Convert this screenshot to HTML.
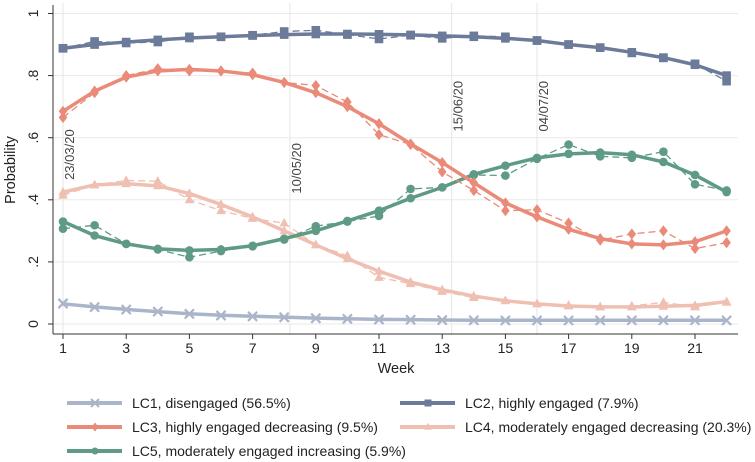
<!DOCTYPE html>
<html><head><meta charset="utf-8"><style>
html,body{margin:0;padding:0;background:#fff;}
svg{display:block;font-family:"Liberation Sans",sans-serif;}
</style></head><body>
<svg id="chart" width="755" height="462" viewBox="0 0 755 462" xmlns="http://www.w3.org/2000/svg">
<rect width="755" height="462" fill="#fff"/>
<g id="grid"></g>
<g id="vlines"></g>
<g id="series"></g>
<g id="axes"></g>
<g id="legend"></g>
</svg>
<script>
const weeks = [1,2,3,4,5,6,7,8,9,10,11,12,13,14,15,16,17,18,19,20,21,22];
const xTicks = [1,3,5,7,9,11,13,15,17,19,21];
const yTicks = [0,0.2,0.4,0.6,0.8,1];
const yTickLabels = ["0",".2",".4",".6",".8","1"];
const eventWeeks = [1,8.18,13.3,16.0];
const eventLabels = ["23/03/20","10/05/20","15/06/20","04/07/20"];
const eventLabelY = [0.464,0.42,0.62,0.62];
const lc1Fit = [.065,.055,.047,.04,.033,.028,.025,.022,.019,.017,.015,.014,.013,.012,.012,.012,.012,.012,.012,.012,.012,.012];
const lc1Obs = [.067,.054,.046,.04,.032,.027,.024,.021,.018,.016,.014,.013,.012,.012,.011,.011,.011,.011,.012,.012,.012,.011];
const lc2Fit = [.888,.9,.908,.915,.921,.925,.929,.932,.934,.934,.933,.931,.928,.925,.92,.913,.9,.89,.875,.858,.835,.8];
const lc2Obs = [.888,.91,.905,.908,.925,.925,.93,.942,.946,.932,.918,.93,.92,.928,.925,.913,.9,.89,.873,.857,.838,.782];
const lc3Fit = [.685,.75,.795,.815,.82,.815,.803,.778,.745,.7,.645,.58,.52,.455,.39,.345,.305,.275,.258,.255,.265,.3];
const lc3Obs = [.665,.745,.8,.822,.815,.815,.808,.778,.768,.715,.61,.578,.49,.43,.365,.368,.325,.27,.29,.3,.243,.262];
const lc4Fit = [.425,.448,.452,.445,.42,.385,.345,.3,.255,.21,.17,.135,.11,.09,.075,.065,.058,.055,.055,.057,.06,.072];
const lc4Obs = [.415,.448,.462,.46,.4,.365,.34,.325,.255,.22,.15,.13,.105,.085,.075,.065,.06,.055,.058,.07,.055,.07];
const lc5Fit = [.33,.285,.258,.242,.237,.24,.252,.275,.3,.332,.365,.405,.44,.482,.51,.535,.548,.552,.545,.522,.48,.425];
const lc5Obs = [.307,.318,.258,.24,.215,.235,.25,.272,.315,.33,.348,.435,.44,.48,.478,.532,.578,.54,.535,.555,.45,.43];
const seriesNames = ["LC1, disengaged (56.5%)","LC2, highly engaged (7.9%)","LC3, highly engaged decreasing (9.5%)","LC4, moderately engaged decreasing (20.3%)","LC5, moderately engaged increasing (5.9%)"];

const NS="http://www.w3.org/2000/svg";
const X = w => 63 + (w-1)*31.6;
const Y = v => 324 - v*310.5;
function mk(tag, attrs, parent){const e=document.createElementNS(NS,tag);for(const k in attrs)e.setAttribute(k,attrs[k]);parent.appendChild(e);return e;}
const grid=document.getElementById('grid'),vl=document.getElementById('vlines'),ser=document.getElementById('series'),ax=document.getElementById('axes'),leg=document.getElementById('legend');

yTicks.forEach((t,i)=>{
  const l=mk('line',{x1:53,x2:738,y1:Y(t),y2:Y(t),stroke:'#eaeaea','stroke-width':1},grid);
  
  
  const tk=mk('line',{x1:48,x2:53,y1:Y(t),y2:Y(t),stroke:'#333'},ax);
  
  
  const tx=mk('text',{x:0,y:0,'font-size':14,fill:'#222','text-anchor':'middle',transform:`translate(38,${Y(t)}) rotate(-90)`},ax);
  tx.textContent=yTickLabels[i];
  
  
});
eventWeeks.forEach((w,i)=>{
  const l=mk('line',{x1:X(w),x2:X(w),y1:3,y2:335,stroke:'#e6e6e6','stroke-width':1},vl);
  
  
  const x=X(w)+11, y=Y(eventLabelY[i]);
  const t=mk('text',{x:0,y:0,'font-size':13,fill:'#444',transform:`translate(${x},${y}) rotate(-90)`},vl);
  t.textContent=eventLabels[i];
  
  
});
mk('line',{x1:53,x2:53,y1:5,y2:334,stroke:'#333'},ax);
mk('line',{x1:53,x2:738,y1:334,y2:334,stroke:'#333'},ax);
xTicks.forEach(t=>{
  const tk=mk('line',{x1:X(t),x2:X(t),y1:334,y2:339,stroke:'#333'},ax);
  
  
  const tx=mk('text',{x:X(t),y:353,'font-size':14,fill:'#222','text-anchor':'middle'},ax);
  tx.textContent=t;
  
  
});
const xt=mk('text',{x:396,y:373,'font-size':14.5,fill:'#222','text-anchor':'middle'},ax);xt.textContent='Week';


const yt=mk('text',{x:0,y:0,'font-size':14.5,fill:'#222','text-anchor':'middle',transform:'translate(15,170) rotate(-90)'},ax);yt.textContent='Probability';



function marker(type,x,y,c,s,g){
  if(type==='x'){mk('path',{d:`M${x-s},${y-s}L${x+s},${y+s}M${x-s},${y+s}L${x+s},${y-s}`,stroke:c,'stroke-width':2,fill:'none'},g);}
  else if(type==='sq'){mk('rect',{x:x-s,y:y-s,width:2*s,height:2*s,fill:c},g);}
  else if(type==='d'){mk('path',{d:`M${x},${y-s*1.3}L${x+s},${y}L${x},${y+s*1.3}L${x-s},${y}Z`,fill:c},g);}
  else if(type==='t'){mk('path',{d:`M${x},${y-s*1.2}L${x+s*1.1},${y+s*0.8}L${x-s*1.1},${y+s*0.8}Z`,fill:c},g);}
  else {mk('circle',{cx:x,cy:y,r:s,fill:c},g);}
}
const defs=[
 {fit:lc1Fit,obs:lc1Obs,c:'#abb5c9',m:'x',name:'lc1',idx:0},
 {fit:lc2Fit,obs:lc2Obs,c:'#6b7b99',m:'sq',name:'lc2',idx:1},
 {fit:lc4Fit,obs:lc4Obs,c:'#efbfb2',m:'t',name:'lc4',idx:3},
 {fit:lc5Fit,obs:lc5Obs,c:'#5e9a84',m:'c',name:'lc5',idx:4},
 {fit:lc3Fit,obs:lc3Obs,c:'#ea8a78',m:'d',name:'lc3',idx:2}
];
defs.forEach(d=>{
  const g=mk('g',{},ser);
  
  
  const po=weeks.map((w,i)=>X(w)+','+Y(d.obs[i])).join(' ');
  const o=mk('polyline',{points:po,fill:'none',stroke:d.c,'stroke-width':1.3,'stroke-dasharray':'7,4'},g);
  
  
  const pf=weeks.map((w,i)=>X(w)+','+Y(d.fit[i])).join(' ');
  const f=mk('polyline',{points:pf,fill:'none',stroke:d.c,'stroke-width':3.5,'stroke-linejoin':'round'},g);
  
  
  weeks.forEach((w,i)=>{marker(d.m,X(w),Y(d.obs[i]),d.c,d.m==='x'?4.5:4.3,g);marker(d.m,X(w),Y(d.fit[i]),d.c,d.m==='x'?4.5:4.3,g);});
});
const legItems=[[67,403,defs[0]],[400,403,defs[1]],[67,427,defs[4]],[400,427,defs[2]],[67,451,defs[3]]];
legItems.forEach(([x,y,d])=>{
  const g=mk('g',{},leg);
  
  
  mk('line',{x1:x,x2:x+55,y1:y,y2:y,stroke:d.c,'stroke-width':4},g);
  marker(d.m,x+28,y,d.c,d.m==='x'?4:3.5,g);
  const t=mk('text',{x:x+65,y:y+5,'font-size':14,fill:'#222'},g);
  t.textContent=seriesNames[d.idx];
});
</script>
</body></html>
